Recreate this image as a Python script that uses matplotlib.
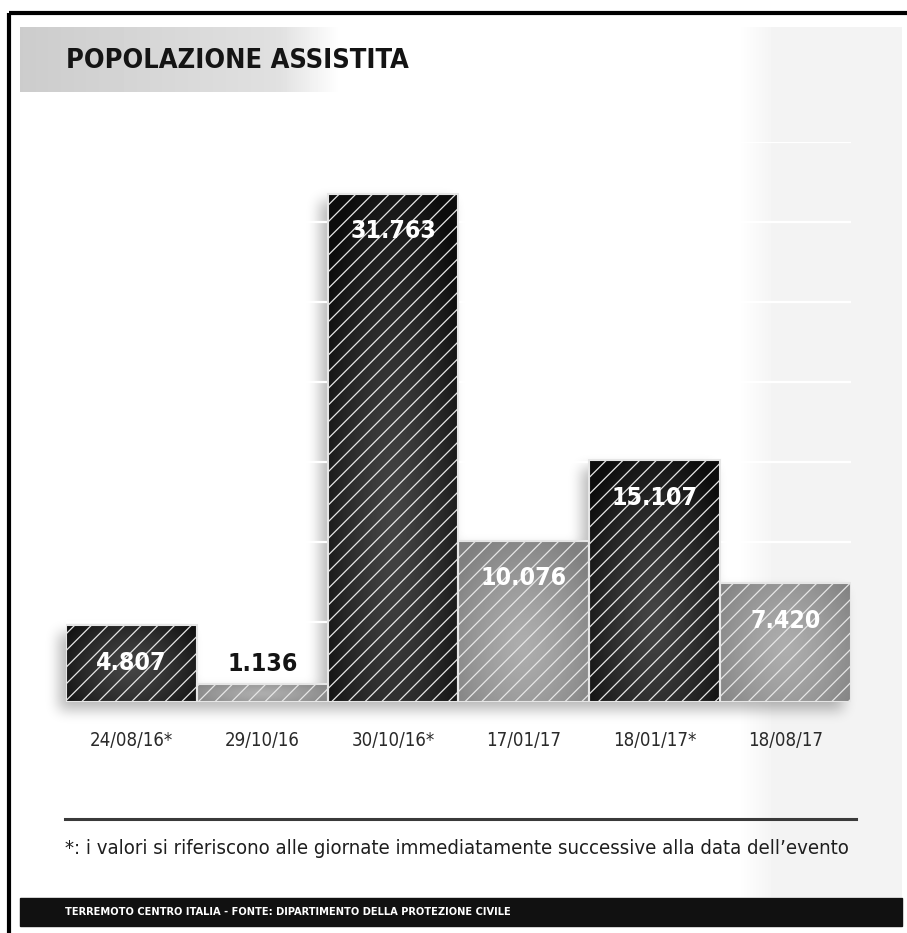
import numpy as np
import matplotlib
matplotlib.use('Agg')
import matplotlib.pyplot as plt
from matplotlib import font_manager
from matplotlib.font_manager import FontProperties

dates = ['24/08/16*', '29/10/16', '30/10/16*', '17/01/17', '18/01/17*', '18/08/17']
values = [4807, 1136, 31763, 10076, 15107, 7420]
labels = ['4.807', '1.136', '31.763', '10.076', '15.107', '7.420']
dark = [True, False, True, False, True, False]

title = 'POPOLAZIONE ASSISTITA'
note = "*: i valori si riferiscono alle giornate immediatamente successive alla data dell\u2019evento"
footer = 'TERREMOTO CENTRO ITALIA - FONTE: DIPARTIMENTO DELLA PROTEZIONE CIVILE'


# look for a narrow / condensed face, otherwise Roboto
def pick_font(bold):
    cands = []
    for f in font_manager.fontManager.ttflist:
        narrow = ('Narrow' in f.name or 'Condensed' in f.name
                  or f.stretch in ('condensed', 'semi-condensed', 'extra-condensed'))
        if not narrow or f.style != 'normal':
            continue
        w = f.weight if isinstance(f.weight, int) else (700 if 'bold' in str(f.weight) else 400)
        cands.append((abs(w - (700 if bold else 400)), f.fname))
    if cands:
        cands.sort()
        return FontProperties(fname=cands[0][1])
    return FontProperties(family=['Roboto', 'DejaVu Sans'],
                          weight='bold' if bold else 'normal')


F_REG = pick_font(False)
F_BOLD = pick_font(True)
plt.rcParams['hatch.linewidth'] = 0.9

W, H = 907, 933
fig = plt.figure(figsize=(W / 100, H / 100), dpi=100)
fig.patch.set_facecolor('white')

# background layer in pixel coordinates (y down)
bg = fig.add_axes([0, 0, 1, 1])
bg.set_xlim(0, W)
bg.set_ylim(H, 0)
bg.axis('off')

# grey panel on the right
ramp = np.concatenate([np.linspace(1.0, 0.95, 40), np.full(125, 0.95)])
bg.imshow(ramp[None, :], cmap='gray', vmin=0, vmax=1, extent=(737, 902, 897, 27),
          aspect='auto', zorder=0)

# title band
tx = np.linspace(0, 1, 400)
tband = np.interp(tx, [0, 0.65, 0.8, 1.0], [0.80, 0.88, 1.0, 1.0])
bg.imshow(tband[None, :], cmap='gray', vmin=0, vmax=1, extent=(20, 420, 92, 27),
          aspect='auto', zorder=1)
t_title = bg.text(66, 61, title, fontproperties=F_BOLD, fontsize=23, color='#141414',
                  va='center', ha='left', zorder=2)

# frame lines
bg.plot([9, W], [13, 13], color='black', lw=3, solid_capstyle='butt', zorder=3)
bg.plot([9, 9], [13, H], color='black', lw=3, solid_capstyle='butt', zorder=3)

# footnote
bg.plot([65, 856], [819, 819], color='#3a3a3a', lw=2.2, zorder=2)
t_note = bg.text(65, 849, note, fontproperties=F_REG, fontsize=16, color='#1e1e1e',
                 va='center', ha='left', zorder=2)

# footer bar
bg.add_patch(plt.Rectangle((20, 898), 882, 28, color='#111111', zorder=2))
t_foot = bg.text(65, 912, footer, fontproperties=F_BOLD, fontsize=10.5, color='white',
                 va='center', ha='left', zorder=3)

# chart
ax = fig.add_axes([66 / W, (H - 702) / H, 785 / W, 560 / H])
ax.patch.set_alpha(0)
x = np.arange(len(values))
bars = ax.bar(x, values, width=1.0, facecolor='none', edgecolor='#e6e6e6',
              linewidth=1.5, hatch='//', zorder=3)

yy, xx = np.mgrid[0:1:200j, 0:1:100j]
for i, (b, v, d) in enumerate(zip(bars, values, dark)):
    h_px = v * 0.016
    cy = 0.35 if h_px > 150 else 0.45
    sy = 0.75 if h_px > 150 else 0.9
    r = np.sqrt(((xx - 0.5) / 0.65) ** 2 + ((yy - cy) / sy) ** 2)
    r = np.clip(r, 0, 1)
    if d:
        img = 0.27 - 0.22 * r ** 1.3
    else:
        img = 0.68 - 0.18 * r ** 1.3
    im = ax.imshow(img, cmap='gray', vmin=0, vmax=1, origin='lower',
                   extent=(i - 0.5, i + 0.5, 0, v), aspect='auto', zorder=2)
    im.set_clip_path(b)

vlabs = []
for i, (v, lab) in enumerate(zip(values, labels)):
    inside = v * 0.016 > 60
    t = ax.annotate(lab, (i, v), xytext=(0, -27 if inside else 14),
                    textcoords='offset points', ha='center', va='center',
                    fontproperties=F_BOLD, fontsize=23,
                    color='white' if inside else '#141414', zorder=5)
    vlabs.append(t)

ax.set_xlim(-0.5, 5.5)
ax.set_ylim(0, 35000)
ax.set_yticks(np.arange(5000, 35001, 5000))
ax.yaxis.grid(True, color='white', lw=1.6, zorder=1)
ax.set_axisbelow(True)
ax.set_xticks(x)
ax.set_xticklabels(dates, color='#2a2a2a')
for t in ax.get_xticklabels():
    t.set_fontproperties(F_REG)
    t.set_fontsize(17)
ax.tick_params(axis='x', length=0, pad=21)
ax.tick_params(axis='y', length=0, labelleft=False)
for s in ax.spines.values():
    s.set_visible(False)

# fit text widths to the reference layout
fig.canvas.draw()


def fit(texts, target):
    w = texts[0].get_window_extent().width
    k = target / w
    for t in texts:
        t.set_fontsize(t.get_fontsize() * k)


fit([t_title], 342)
fit([t_note], 788)
fit([t_foot], 450)
fit([vlabs[2]] + vlabs[:2] + vlabs[3:], 86)
fit(ax.get_xticklabels(), 84)

# soft drop shadow behind the bars (pixel grid of the whole figure)
mask = np.zeros((H, W))
for b in bars:
    x0, y0 = b.get_x(), b.get_y()
    (px0, py1), (px1, py0) = ax.transData.transform([(x0, y0), (x0 + b.get_width(), y0 + b.get_height())])
    r0, r1 = int(H - py0) + 8, int(H - py1) + 8
    c0, c1 = int(px0) - 7, int(px1) - 7
    mask[max(r0, 0):min(r1, H), max(c0, 0):min(c1, W)] = 1.0


def box_blur(a, k):
    for axis in (0, 1):
        c = np.cumsum(np.pad(a, [(k, k) if i == axis else (0, 0) for i in range(2)]), axis=axis)
        c = np.insert(c, 0, 0, axis=axis)
        n = a.shape[axis]
        a = (np.take(c, np.arange(2 * k + 1, n + 2 * k + 1), axis=axis)
             - np.take(c, np.arange(0, n), axis=axis)) / (2 * k + 1)
    return a


for _ in range(3):
    mask = box_blur(mask, 6)
shadow = np.zeros((H, W, 4))
shadow[..., 3] = mask * 0.28
bg.imshow(shadow, extent=(0, W, H, 0), aspect='auto', zorder=1, interpolation='nearest')
bg.set_xlim(0, W)
bg.set_ylim(H, 0)

fig.savefig('out.png', dpi=100)
